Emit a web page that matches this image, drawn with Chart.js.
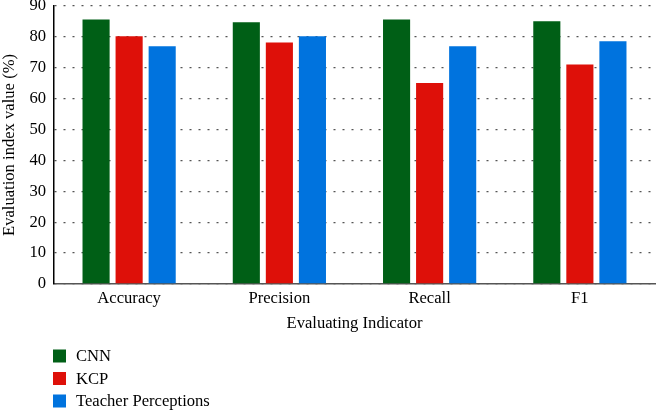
<!DOCTYPE html>
<html>
<head>
<meta charset="utf-8">
<script src="https://cdn.jsdelivr.net/npm/chart.js@4.4.0/dist/chart.umd.min.js"></script>
<style>
  html, body { margin: 0; padding: 0; background: #fff; }
  #wrap { width: 656px; height: 410px; }
</style>
</head>
<body>
<div id="wrap"><canvas id="chart" width="656" height="410"></canvas></div>
<script>
const categories = ["Accuracy", "Precision", "Recall", "F1"];
const cnnValues = [85.6, 84.7, 85.6, 85.1];
const kcpValues = [80.2, 78.2, 65.1, 71.1];
const teacherValues = [77.0, 80.2, 77.0, 78.6];
const yTicks = [0, 10, 20, 30, 40, 50, 60, 70, 80, 90];

const FONT = "'Liberation Serif', 'DejaVu Serif', serif";
const SIZE = 16.6;

// legend drawn as a vertical list under the axis title
const listLegend = {
    id: "listLegend",
    afterDraw(chart) {
        const ctx = chart.ctx;
        ctx.save();
        ctx.font = SIZE + "px " + FONT;
        ctx.textBaseline = "middle";
        chart.data.datasets.forEach((ds, i) => {
            const y = 356 + i * 22.5;
            ctx.fillStyle = ds.backgroundColor;
            ctx.fillRect(53, y - 6.5, 13, 13);
            ctx.fillStyle = "#000";
            ctx.fillText(ds.label, 76, y + 1);
        });
        ctx.restore();
    }
};

new Chart(document.getElementById("chart"), {
    type: "bar",
    data: {
        labels: categories,
        datasets: [
            { label: "CNN", data: cnnValues, backgroundColor: "#005f16" },
            { label: "KCP", data: kcpValues, backgroundColor: "#de1009" },
            { label: "Teacher Perceptions", data: teacherValues, backgroundColor: "#0073de" }
        ]
    },
    options: {
        responsive: false,
        animation: false,
        layout: { padding: { top: 6, right: 1, bottom: 76, left: 0 } },
        datasets: { bar: { categoryPercentage: 0.66, barPercentage: 0.82 } },
        plugins: {
            legend: { display: false },
            tooltip: { enabled: false }
        },
        scales: {
            x: {
                grid: { display: false, drawTicks: false },
                border: { display: true, color: "#555", width: 1.5 },
                ticks: { color: "#000", font: { family: FONT, size: SIZE }, padding: 5 },
                title: {
                    display: true, text: "Evaluating Indicator", color: "#000",
                    font: { family: FONT, size: SIZE }, padding: { top: 1, bottom: 0 }
                },
                afterFit(scale) { scale.height = 50; }
            },
            y: {
                min: 0, max: 90,
                afterBuildTicks(scale) { scale.ticks = yTicks.map(v => ({ value: v })); },
                grid: { color: "#555", lineWidth: 1.3, drawTicks: false },
                border: { display: true, color: "#000", width: 1.5, dash: [2, 7] },
                ticks: { color: "#000", font: { family: FONT, size: SIZE }, padding: 8 },
                title: {
                    display: true, text: "Evaluation index value (%)", color: "#000",
                    font: { family: FONT, size: SIZE }, padding: { top: 0, bottom: 0 }
                },
                afterFit(scale) {
                    scale.width = 54;
                    scale.paddingTop = 0;
                    scale.paddingBottom = 0;
                }
            }
        }
    },
    plugins: [listLegend]
});
</script>
</body>
</html>
